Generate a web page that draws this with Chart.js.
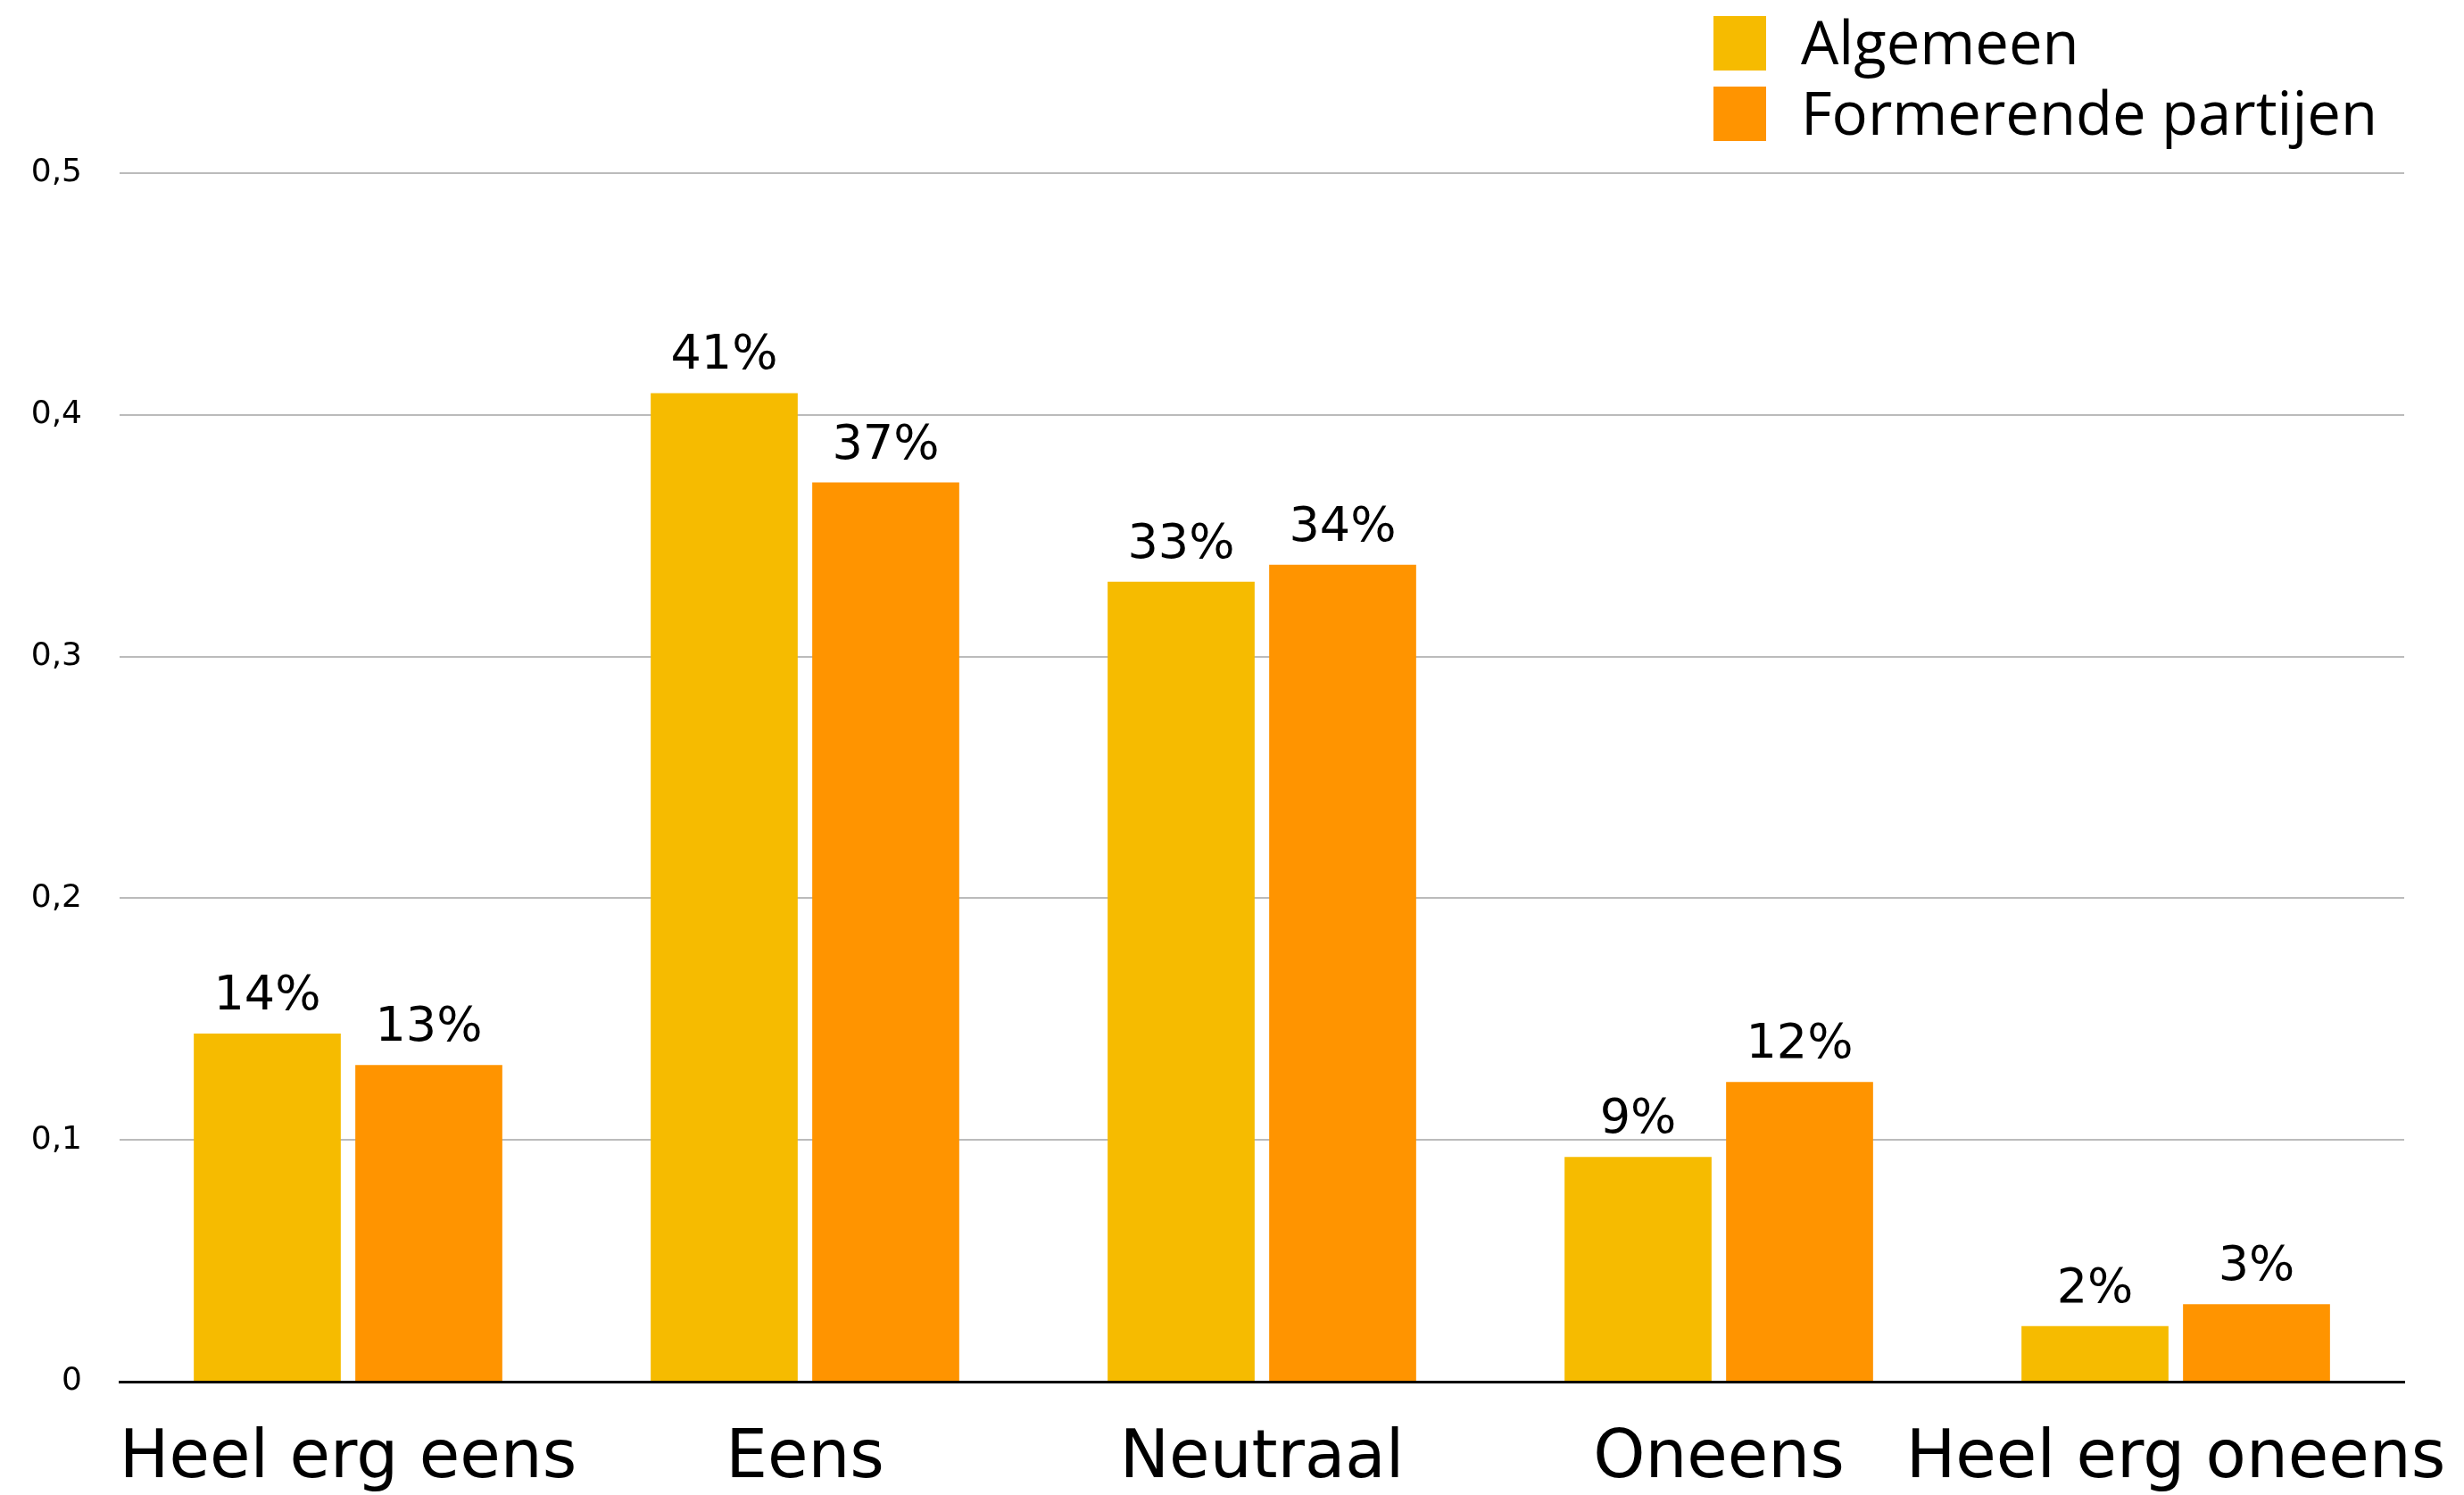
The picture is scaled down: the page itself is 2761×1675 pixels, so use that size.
<!DOCTYPE html>
<html>
<head>
<meta charset="utf-8">
<script src="https://cdn.jsdelivr.net/npm/chart.js@4/dist/chart.umd.min.js"></script>
<style>
  html, body { margin: 0; padding: 0; background: #fff; }
  #wrap { width: 2761px; height: 1675px; }
</style>
</head>
<body>
<div id="wrap"><canvas id="myChart" width="2761" height="1675"></canvas></div>
<script>
Chart.defaults.font.family = "'DejaVu Sans', sans-serif";
Chart.defaults.color = "#000";

const categories = ["Heel erg eens", "Eens", "Neutraal", "Oneens", "Heel erg oneens"];
const algemeen = [0.144, 0.409, 0.331, 0.093, 0.023];
const formerend = [0.131, 0.372, 0.338, 0.124, 0.032];
const algemeenLabels = ["14%", "41%", "33%", "9%", "2%"];
const formerendLabels = ["13%", "37%", "34%", "12%", "3%"];
const yTickLabels = ["0", "0,1", "0,2", "0,3", "0,4", "0,5"];

const data = {
	labels: categories,
	datasets: [
		{
			label: "Algemeen",
			data: algemeen,
			valueLabels: algemeenLabels,
			backgroundColor: "#F6BB00",
		},
		{
			label: "Formerende partijen",
			data: formerend,
			valueLabels: formerendLabels,
			backgroundColor: "#FF9400",
		},
	],
};

// value labels above the bars
const barLabels = {
	id: "barLabels",
	afterDatasetsDraw(chart) {
		const ctx = chart.ctx;
		ctx.save();
		ctx.font = "54px 'DejaVu Sans', sans-serif";
		ctx.fillStyle = "#000";
		ctx.textAlign = "center";
		ctx.textBaseline = "bottom";
		chart.data.datasets.forEach((ds, i) => {
			chart.getDatasetMeta(i).data.forEach((bar, j) => {
				ctx.fillText(ds.valueLabels[j], bar.x, bar.y - 14);
			});
		});
		ctx.restore();
	},
};

// stacked legend at the top right
const stackedLegend = {
	id: "stackedLegend",
	afterDraw(chart) {
		const ctx = chart.ctx;
		ctx.save();
		ctx.font = "67px 'Open Sans', sans-serif";
		ctx.textBaseline = "middle";
		ctx.textAlign = "left";
		chart.data.datasets.forEach((ds, i) => {
			const y = 18 + i * 79;
			ctx.fillStyle = ds.backgroundColor;
			ctx.fillRect(1920, y, 59, 61);
			ctx.fillStyle = "#000";
			ctx.fillText(ds.label, 2018, y + 35);
		});
		ctx.restore();
	},
};

const config = {
	type: "bar",
	data,
	plugins: [barLabels, stackedLegend],
	options: {
		responsive: false,
		animation: false,
		layout: {
			padding: { top: 194, right: 67, bottom: 0, left: 0 },
		},
		datasets: {
			bar: {
				categoryPercentage: 0.707,
				barPercentage: 0.91,
			},
		},
		plugins: {
			legend: { display: false },
			tooltip: { enabled: false },
		},
		scales: {
			x: {
				afterFit(scale) {
					scale.height = 127;
					scale.paddingLeft = 0;
					scale.paddingRight = 0;
				},
				grid: { display: false, drawTicks: false },
				border: { display: true, color: "#000", width: 3 },
				ticks: {
					autoSkip: false,
					maxRotation: 0,
					minRotation: 0,
					padding: 51,
					font: { size: 74, lineHeight: 1.0 },
				},
			},
			y: {
				min: 0,
				max: 0.5,
				afterFit(scale) {
					scale.width = 134;
					scale.paddingTop = 0;
					scale.paddingBottom = 0;
				},
				grid: { color: "#bbbbbb", lineWidth: 2, drawTicks: false },
				border: { display: false },
				ticks: {
					stepSize: 0.1,
					padding: 42,
					font: { size: 36 },
					callback: function (val, index) {
						return yTickLabels[index];
					},
				},
			},
		},
	},
};

const ctx = document.getElementById("myChart").getContext("2d");
new Chart(ctx, config);
</script>
</body>
</html>
